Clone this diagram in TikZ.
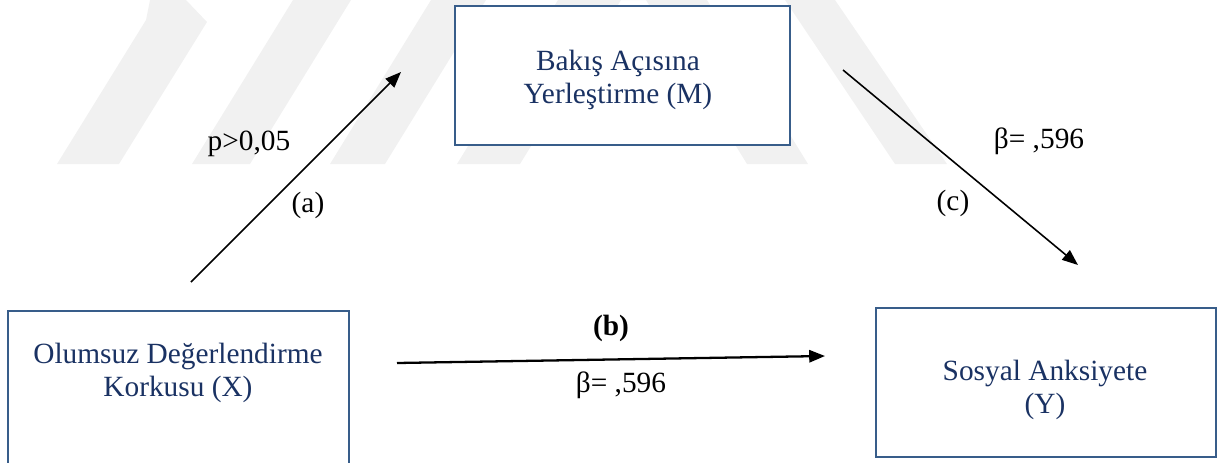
\documentclass[tikz,border=0pt]{standalone}
\usepackage{fontspec}
\setmainfont{Liberation Serif}
\usepackage{tikz}
\usetikzlibrary{arrows.meta, positioning}
\definecolor{boxLine}{HTML}{385D8A}
\definecolor{boxText}{HTML}{1A3263}
\definecolor{markGray}{HTML}{F1F1F1}
\tikzset{
  varbox/.style={draw=boxLine, line width=1.5pt, fill=white, minimum width=6.76cm},
  vartext/.style={align=center, text=boxText, font=\fontsize{16.7}{18.8}\selectfont},
  pathlabel/.style={anchor=base, font=\fontsize{16.7}{18.8}\selectfont},
  patharr/.style={-{Triangle[length=9pt, width=7pt]}, line width=0.9pt},
  wmark/.style={fill=markGray, draw=none},
}
\begin{document}
\begin{tikzpicture}[x=0.02cm, y=-0.02cm]
    \useasboundingbox (0,0) rectangle (1221,463);
    % faint watermark bands
    \fill[wmark] (150,0) -- (186,0) -- (207,22) -- (119,164) -- (57,164) -- (146,20) -- cycle;
    \fill[wmark] (192,164) -- (250,164) -- (351,0) -- (293,0) -- cycle;
    \fill[wmark] (330,164) -- (385,164) -- (486,0) -- (431,0) -- cycle;
    \fill[wmark] (457,164) -- (520,164) -- (621,0) -- (646,0) -- (747,164) -- (808,164) -- (707,0) -- (558,0) -- cycle;
    \fill[wmark] (785,0) -- (835,0) -- (947,164) -- (895,164) -- cycle;
    % boxes
    \node[varbox, minimum width=6.7cm, minimum height=2.78cm] (mbox) at (622.5,75.5) {};
    \node[varbox, minimum width=6.82cm, minimum height=3.28cm] (xbox) at (178.5,393) {};
    \node[varbox, minimum width=6.8cm, minimum height=2.98cm] (ybox) at (1046,382.5) {};
    \node[vartext] (mtext) at (618,80) {Bakış Açısına\\Yerleştirme (M)};
    \node[vartext] (xtext) at (178,373) {Olumsuz Değerlendirme\\Korkusu (X)};
    \node[vartext] (ytext) at (1045,390) {Sosyal Anksiyete\\(Y)};
    % paths
    \coordinate (a0) at (191,282); \coordinate (a1) at (401,72);
    \coordinate (c0) at (843,70);  \coordinate (c1) at (1078,265);
    \coordinate (b0) at (397,363); \coordinate (b1) at (825,356);
    \draw[patharr] (a0) -- (a1);
    \draw[patharr] (c0) -- (c1);
    \draw[patharr, line width=1.3pt] (b0) -- (b1);
    \node[pathlabel] (pa) at (249,150) {p>0,05};
    \node[pathlabel] (la) at (308,212) {(a)};
    \node[pathlabel] (pc) at (1039,148) {β= ,596};
    \node[pathlabel] (lc) at (953,210) {(c)};
    \node[pathlabel] (lb) at (611,335) {\textbf{(b)}};
    \node[pathlabel] (pb) at (621,392) {β= ,596};
  \end{tikzpicture}
\end{document}
